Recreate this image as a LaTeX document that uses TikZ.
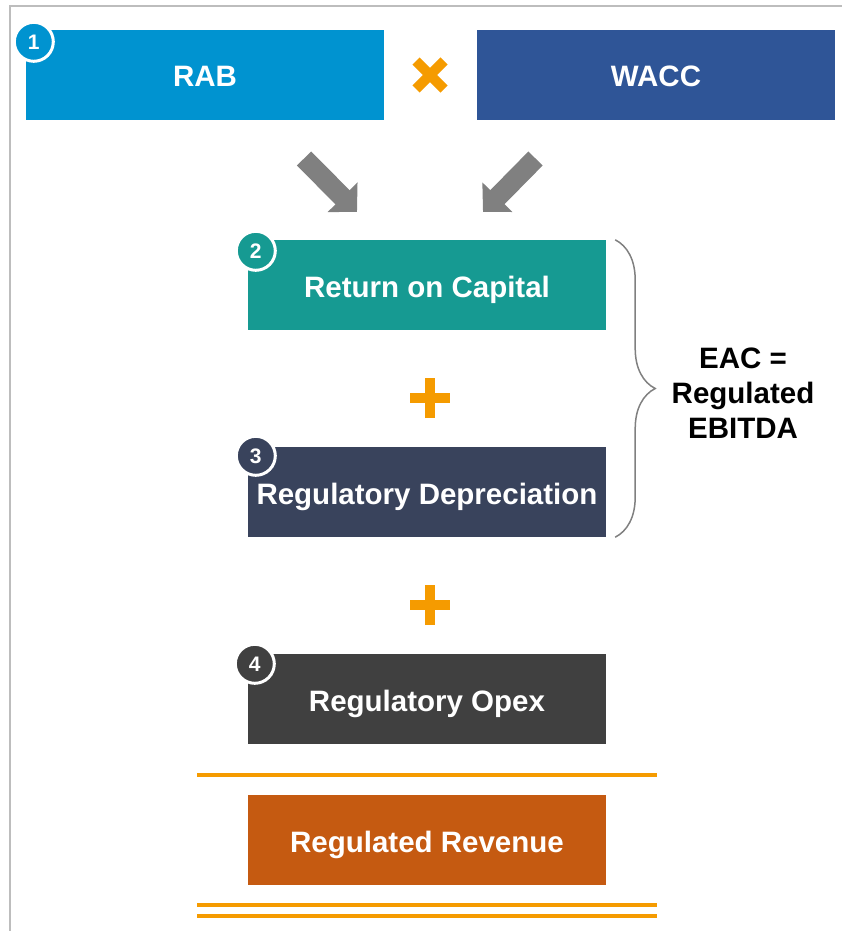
\documentclass[tikz,border=0pt]{standalone}
\usepackage{fontspec}
\setmainfont{Liberation Sans}
\usetikzlibrary{positioning, arrows.meta, decorations.pathreplacing}

\definecolor{rabblue}{HTML}{0093D0}
\definecolor{waccblue}{HTML}{2F5597}
\definecolor{rocteal}{HTML}{169A92}
\definecolor{depnavy}{HTML}{39435C}
\definecolor{opexgray}{HTML}{404040}
\definecolor{revorange}{HTML}{C55A11}
\definecolor{signorange}{HTML}{F59B00}
\definecolor{arrowgray}{HTML}{808080}
\definecolor{framegray}{HTML}{BDBDBD}

\begin{document}
\begin{tikzpicture}[x=1pt,y=1pt,node distance=207pt,on grid,
  box/.style={minimum width=358pt,minimum height=90pt,inner sep=0pt,text=white,
    text height=24pt,text depth=0pt,font=\bfseries\fontsize{29.5}{34}\selectfont},
  numcirc/.style={circle,draw=white,line width=3pt,minimum size=39pt,inner sep=0pt,
    text=white,font=\bfseries\fontsize{21}{24}\selectfont},
  opsign/.style={draw=signorange,line width=10pt},
  fatarrow/.style={draw=arrowgray,line width=20pt,-{Triangle[width=41pt,length=20.5pt]}},
  rule/.style={draw=signorange,line width=3.5pt},
  frame/.style={draw=framegray,line width=1.5pt}]
\useasboundingbox (0,0) rectangle (842,-931);
\draw[frame] (10,-931) |- (842,-6);

% inputs
\node[box,fill=rabblue] (rab) at (205,-75) {RAB};
\node[box,fill=waccblue] (wacc) [right=451pt of rab] {WACC};
\coordinate (times) at (430,-75);
\draw[opsign] ([shift={(-14pt,14pt)}]times) -- ([shift={(14pt,-14pt)}]times)
              ([shift={(-14pt,-14pt)}]times) -- ([shift={(14pt,14pt)}]times);

% building blocks
\node[box,fill=rocteal] (roc) at (427,-285) {Return on Capital};
\node[box,fill=depnavy] (regdep) [below=of roc] {Regulatory Depreciation};
\node[box,fill=opexgray] (regopex) [below=of regdep] {Regulatory Opex};
\node[box,fill=revorange] (regrev) [below=141pt of regopex] {Regulated Revenue};

\node[numcirc,fill=rabblue] (n1) at ([shift={(8pt,-12pt)}]rab.north west) {1};
\node[numcirc,fill=rocteal] (n2) at ([shift={(8pt,-11pt)}]roc.north west) {2};
\node[numcirc,fill=depnavy] (n3) at ([shift={(8pt,-9pt)}]regdep.north west) {3};
\node[numcirc,fill=opexgray] (n4) at ([shift={(7pt,-10pt)}]regopex.north west) {4};

% arrows into return on capital
\coordinate (a1) at (304,-158.5);
\coordinate (a2) at (535.5,-158.5);
\coordinate (t1) at ([shift={(-70pt,28pt)}]roc.north);
\coordinate (t2) at ([shift={(56pt,28pt)}]roc.north);
\draw[fatarrow] (a1) -- (t1);
\draw[fatarrow] (a2) -- (t2);

% plus signs
\coordinate (plus1) at (430,-398);
\coordinate (plus2) at (430,-605);
\foreach \p in {plus1,plus2}
  \draw[opsign] ([xshift=-20pt]\p) -- ([xshift=20pt]\p)
                ([yshift=-20pt]\p) -- ([yshift=20pt]\p);

% EAC brace
\draw[arrowgray,line width=1.5pt,decorate,decoration={brace,amplitude=40pt}]
  ([xshift=9pt]roc.north east) -- ([xshift=9pt]regdep.south east);
\node[align=center,font=\bfseries\fontsize{29.5}{35}\selectfont] (eac) at (743,-393)
  {EAC =\\Regulated\\EBITDA};

% result lines
\draw[rule] ([shift={(-230pt,-31pt)}]regopex.south) -- ([shift={(230pt,-31pt)}]regopex.south);
\draw[rule] ([shift={(-230pt,-20pt)}]regrev.south) -- ([shift={(230pt,-20pt)}]regrev.south);
\draw[rule] ([shift={(-230pt,-31pt)}]regrev.south) -- ([shift={(230pt,-31pt)}]regrev.south);
\end{tikzpicture}
\end{document}
